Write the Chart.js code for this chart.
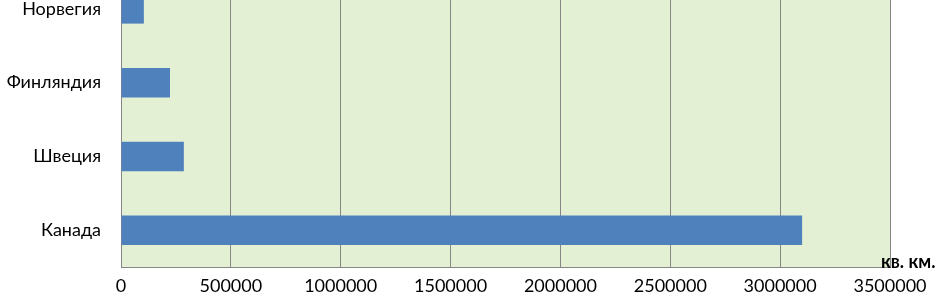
<!DOCTYPE html>
<html>
<head>
<meta charset="utf-8">
<script src="https://cdn.jsdelivr.net/npm/chart.js@4/dist/chart.umd.min.js"></script>
<style>
  body { margin: 0; background: #fff; }
  #wrap { position: relative; width: 937px; height: 305px; overflow: hidden; }
  #holder { position: absolute; left: 0; top: -28px; width: 937px; height: 333px; }
</style>
</head>
<body>
<div id="wrap"><div id="holder"><canvas id="myChart" width="937" height="333"></canvas></div></div>
<script>
const countries = ['Норвегия', 'Финляндия', 'Швеция', 'Канада'];
const area = [104000, 223000, 286000, 3100000];
const unitLabel = 'кв. км.';
const xMax = 3500000;
const xStep = 500000;

const plotBg = {
  id: 'plotBg',
  beforeDraw(chart) {
    const a = chart.chartArea;
    const c = chart.ctx;
    c.save();
    c.fillStyle = '#E3F0D4';
    c.fillRect(a.left, a.top, a.right - a.left, a.bottom - a.top);
    c.restore();
  },
  afterDraw(chart) {
    const a = chart.chartArea;
    const c = chart.ctx;
    c.save();
    c.font = 'bold 18px Lato';
    c.fillStyle = '#000';
    c.textBaseline = 'alphabetic';
    c.fillText(unitLabel, a.right - 9, a.bottom + 1);
    c.restore();
  }
};

const ctx = document.getElementById('myChart').getContext('2d');
new Chart(ctx, {
  type: 'bar',
  data: {
    labels: countries,
    datasets: [{
      data: area,
      backgroundColor: '#4F81BD',
      borderWidth: 0,
      barPercentage: 0.4,
      categoryPercentage: 1
    }]
  },
  options: {
    indexAxis: 'y',
    responsive: false,
    animation: false,
    layout: { padding: 0 },
    plugins: { legend: { display: false }, tooltip: { enabled: false } },
    scales: {
      x: {
        min: 0,
        max: xMax,
        afterFit(scale) {
          scale.height = 38;
          scale.paddingRight = 47;
          scale.paddingLeft = 0;
        },
        ticks: {
          stepSize: xStep,
          color: '#000',
          font: { family: 'Lato', size: 18 },
          padding: 8,
          callback: v => String(v)
        },
        grid: { color: '#868686', drawTicks: false },
        border: { display: true, color: '#868686' }
      },
      y: {
        afterFit(scale) {
          scale.width = 121;
          scale.paddingTop = 0;
          scale.paddingBottom = 0;
        },
        ticks: {
          color: '#000',
          font: { family: 'Lato', size: 18 },
          padding: 20
        },
        grid: { display: false, drawTicks: false },
        border: { display: true, color: '#868686' }
      }
    }
  },
  plugins: [plotBg]
});
</script>
</body>
</html>
